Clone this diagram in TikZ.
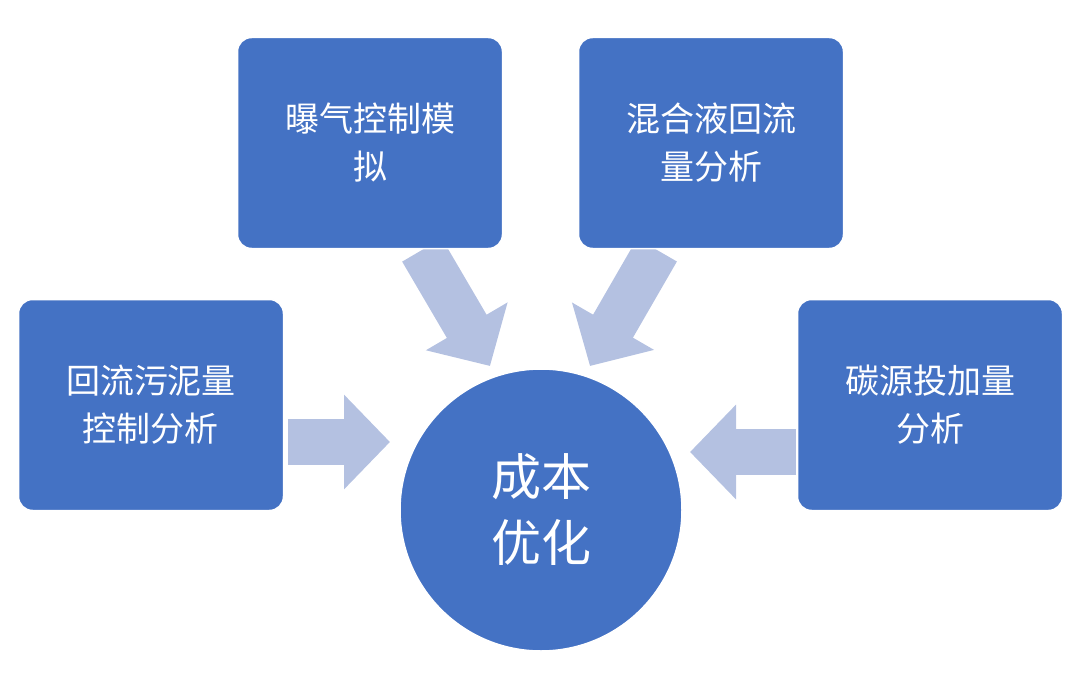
\documentclass[tikz,border=0pt]{standalone}
\usepackage{fontspec}
\setmainfont{Noto Sans CJK SC}
\usetikzlibrary{arrows.meta}
\definecolor{boxblue}{HTML}{4472C4}
\definecolor{arrblue}{HTML}{B4C1E1}
\begin{document}
\begin{tikzpicture}[x=1pt,y=-1pt,
  box/.style={draw=white,line width=1.5pt,fill=boxblue,rounded corners=14pt,minimum width=265pt,minimum height=211pt,text=white,font=\fontsize{34}{48}\selectfont,align=center},
  fat/.style={draw=arrblue,line width=46pt,-{Triangle[length=46pt,width=92pt]},shorten >=0pt}]
\useasboundingbox (0,0) rectangle (1080,685);
\coordinate (a1s) at (288,442); \coordinate (a1e) at (390,442);
\coordinate (a2s) at (422,250); \coordinate (a2e) at (490,366);
\coordinate (a3s) at (657,250); \coordinate (a3e) at (590,366);
\coordinate (a4s) at (796,452); \coordinate (a4e) at (690,452);
\draw[fat] (a1s) -- (a1e);
\draw[fat] (a2s) -- (a2e);
\draw[fat] (a3s) -- (a3e);
\draw[fat] (a4s) -- (a4e);
\node[box] (b1) at (370,143) {曝气控制模\\拟};
\node[box] (b2) at (711,143) {混合液回流\\量分析};
\node[box] (b3) at (151,405) {回流污泥量\\控制分析};
\node[box] (b4) at (930,405) {碳源投加量\\分析};
\node[circle,draw=white,line width=1.5pt,fill=boxblue,minimum size=282pt,text=white,font=\fontsize{50}{66}\selectfont,align=center] (c) at (541,510) {成本\\优化};
\end{tikzpicture}
\end{document}
